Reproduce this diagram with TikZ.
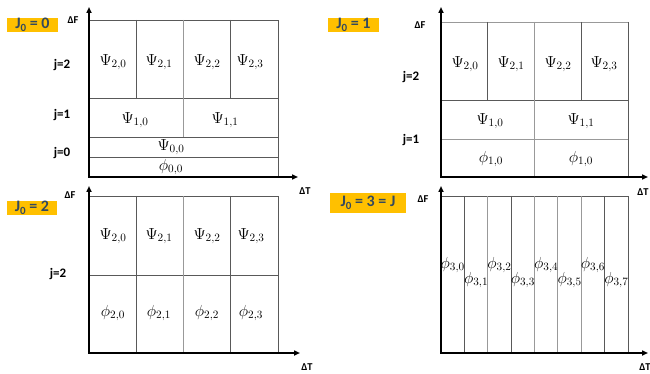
\RequirePackage{fix-cm}
\documentclass[tikz,border=0pt]{standalone}
\usepackage[no-math]{fontspec}
\newfontfamily\cf{Carlito}
\usetikzlibrary{arrows.meta}
\definecolor{jyel}{HTML}{FFC000}
\definecolor{jtxt}{HTML}{34495E}
\newcommand\jsub[1]{\raisebox{-0.35ex}{\fontsize{11}{11}\selectfont #1}}
\begin{document}
\begin{tikzpicture}[x=1pt,y=-1pt,
  ax/.style={line width=1.8pt,{Triangle[length=6pt,width=5pt]}-{Triangle[length=6pt,width=5pt]}},
  gl/.style={draw=black!40,line width=0.9pt},
  gd/.style={draw=black!65,line width=0.9pt},
  lab/.style={font=\fontsize{16}{18}\selectfont,inner sep=0pt},
  jl/.style={font=\cf\bfseries\fontsize{13}{15}\selectfont,inner sep=0pt},
  dl/.style={font=\cf\bfseries\fontsize{10.5}{12}\selectfont,inner sep=0pt},
  jbox/.style={fill=jyel,text=jtxt,font=\cf\bfseries\fontsize{16}{18}\selectfont,inner sep=0pt,minimum height=14pt}]
\useasboundingbox (0,0) rectangle (650,374);

% ---------------- Panel 1: J0 = 0 ----------------
\draw[gd] (89,20) -- (278,20) -- (278,177);
\draw[gd] (89,98) -- (278,98);
\draw[gd] (89,137) -- (278,137);
\draw[gd] (89,157) -- (278,157);
\draw[gd] (136,20) -- (136,98);
\draw[gl] (183,20) -- (183,137);
\draw[gd] (230,20) -- (230,98);
\coordinate (o1) at (89,177); \coordinate (y1) at (89,7); \coordinate (x1) at (298,177);
\draw[ax] (y1) |- (x1);
\node[jbox,minimum width=51pt] (b0) at (32.5,25) {J\jsub{0} = 0};
\node[dl] (f1) at (73,20) {ΔF};
\node[dl] (t1) at (305,191) {ΔT};
\node[jl] (j12) at (62,65) {j=2};
\node[jl] (j11) at (62,115) {j=1};
\node[jl] (j10) at (62,153) {j=0};
\node[lab] (p120) at (113,62) {$\Psi_{2,0}$};
\node[lab] (p121) at (159,62) {$\Psi_{2,1}$};
\node[lab] (p122) at (207,62) {$\Psi_{2,2}$};
\node[lab] (p123) at (250,62) {$\Psi_{2,3}$};
\node[lab] (p110) at (135,120) {$\Psi_{1,0}$};
\node[lab] (p111) at (225,120) {$\Psi_{1,1}$};
\node[lab] (p100) at (171,147) {$\Psi_{0,0}$};
\node[lab] (q100) at (171,167) {$\phi_{0,0}$};

% ---------------- Panel 2: J0 = 1 ----------------
\draw[gl] (441,22) -- (628,22);
\draw[gd] (628,22) -- (628,177);
\draw[gd] (441,100) -- (628,100);
\draw[gl] (441,139) -- (628,139);
\draw[gd] (487.75,22) -- (487.75,100);
\draw[gl] (534.5,22) -- (534.5,177);
\draw[gd] (581.25,22) -- (581.25,100);
\coordinate (o2) at (441,177); \coordinate (y2) at (441,7); \coordinate (x2) at (648,177);
\draw[ax] (y2) |- (x2);
\node[jbox,minimum width=51pt] (b1) at (353.5,25) {J\jsub{0} = 1};
\node[dl] (f2) at (420,25) {ΔF};
\node[dl] (t2) at (643,192) {ΔT};
\node[jl] (j22) at (411,77) {j=2};
\node[jl] (j21) at (411,140) {j=1};
\node[lab] (p220) at (465,64) {$\Psi_{2,0}$};
\node[lab] (p221) at (511,64) {$\Psi_{2,1}$};
\node[lab] (p222) at (558,64) {$\Psi_{2,2}$};
\node[lab] (p223) at (604,64) {$\Psi_{2,3}$};
\node[lab] (p210) at (490,121) {$\Psi_{1,0}$};
\node[lab] (p211) at (581,121) {$\Psi_{1,1}$};
\node[lab] (q210) at (491,159) {$\phi_{1,0}$};
\node[lab] (q211) at (581,159) {$\phi_{1,0}$};

% ---------------- Panel 3: J0 = 2 ----------------
\draw[gd] (89,196) -- (278,196) -- (278,353);
\draw[gd] (89,275) -- (278,275);
\draw[gd] (136,196) -- (136,353);
\draw[gl] (183,196) -- (183,353);
\draw[gd] (230,196) -- (230,353);
\coordinate (o3) at (89,353); \coordinate (y3) at (89,186); \coordinate (x3) at (300,353);
\draw[ax] (y3) |- (x3);
\node[jbox,minimum width=50pt] (b2) at (32,208) {J\jsub{0} = 2};
\node[dl] (f3) at (70,195) {ΔF};
\node[dl] (t3) at (307,367) {ΔT};
\node[jl] (j32) at (58,274) {j=2};
\node[lab] (p320) at (113,236) {$\Psi_{2,0}$};
\node[lab] (p321) at (159,236) {$\Psi_{2,1}$};
\node[lab] (p322) at (207,236) {$\Psi_{2,2}$};
\node[lab] (p323) at (251,236) {$\Psi_{2,3}$};
\node[lab] (q320) at (113,313) {$\phi_{2,0}$};
\node[lab] (q321) at (159,313) {$\phi_{2,1}$};
\node[lab] (q322) at (207,313) {$\phi_{2,2}$};
\node[lab] (q323) at (251,313) {$\phi_{2,3}$};

% ---------------- Panel 4: J0 = 3 = J ----------------
\draw[gd] (441,196) -- (628,196) -- (628,353);
\foreach \i/\c in {1/gd,2/gl,3/gd,4/gl,5/gl,6/gl,7/gd}
  \draw[\c] ({441+23.375*\i},196) -- ({441+23.375*\i},353);
\coordinate (o4) at (441,353); \coordinate (y4) at (441,186); \coordinate (x4) at (648,353);
\draw[ax] (y4) |- (x4);
\node[jbox,minimum width=76pt,minimum height=20pt] (b3) at (368,203) {J\jsub{0} = 3 = J};
\node[dl] (f4) at (423,199) {ΔF};
\node[dl] (t4) at (645,367) {ΔT};
\foreach \k in {0,2,4,6}
  \node[lab] (q4\k) at ({441+23.375*(\k+0.5)},265) {$\phi_{3,\k}$};
\foreach \k in {1,3,5,7}
  \node[lab] (q4\k) at ({441+23.375*(\k+0.5)},280) {$\phi_{3,\k}$};
\end{tikzpicture}
\end{document}
